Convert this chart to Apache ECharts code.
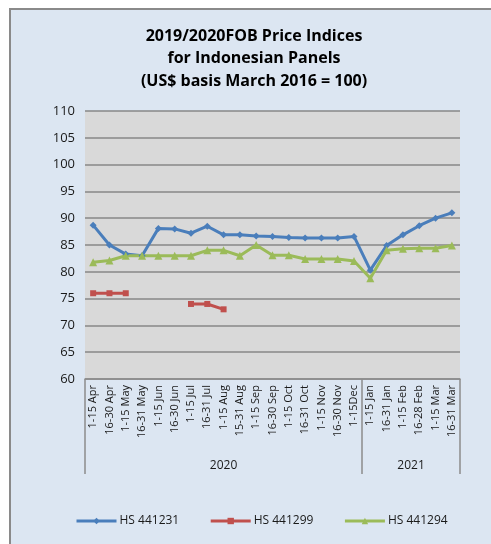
<!DOCTYPE html>
<html>
<head>
<meta charset="utf-8">
<script src="https://cdn.jsdelivr.net/npm/echarts@6/dist/echarts.min.js"></script>
<style>
  html, body { margin: 0; padding: 0; background: #fff; }
  #chart { width: 491px; height: 544px; }
</style>
</head>
<body>
<div id="chart"></div>
<script>
var periods = ['1-15 Apr', '16-30 Apr', '1-15 May', '16-31 May', '1-15 Jun', '16-30 Jun',
    '1-15 Jul', '16-31 Jul', '1-15 Aug', '15-31 Aug', '1-15 Sep', '16-30 Sep',
    '1-15 Oct', '16-31 Oct', '1-15 Nov', '16-30 Nov', '1-15Dec',
    '1-15 Jan', '16-31 Jan', '1-15 Feb', '16-28 Feb', '1-15 Mar', '16-31 Mar'];
var years = ['2020', '2021'];
var yearCounts = [17, 6];

var hs441231 = [88.7, 85.0, 83.3, 83.0, 88.1, 88.0, 87.2, 88.5, 86.9, 86.9, 86.7, 86.6,
    86.4, 86.3, 86.3, 86.3, 86.6, 80.3, 84.9, 86.9, 88.6, 90.0, 91.0];
var hs441299 = [76, 76, 76, null, null, null, 74, 74, 73, null, null, null,
    null, null, null, null, null, null, null, null, null, null, null];
var hs441294 = [81.8, 82.1, 83.0, 83.0, 83.0, 83.0, 83.0, 84.0, 84.0, 83.0, 85.0, 83.1,
    83.1, 82.4, 82.4, 82.4, 82.0, 78.8, 84.0, 84.3, 84.4, 84.4, 84.9];

var fontName = 'Open Sans';
var textColor = '#1a1a1a';

// year group boundaries and centres on a 0..N value axis
var bounds = [0];
var centres = [];
yearCounts.forEach(function (c, i) {
    centres.push(bounds[i] + c / 2);
    bounds.push(bounds[i] + c);
});

function lineSeries(name, data, color, symbol, size) {
    return {
        name: name,
        type: 'line',
        data: data,
        symbol: symbol,
        symbolSize: size,
        showSymbol: true,
        connectNulls: false,
        lineStyle: { color: color, width: 3 },
        itemStyle: { color: color },
        emphasis: { disabled: true },
        z: 3
    };
}

var chart = echarts.init(document.getElementById('chart'));
chart.setOption({
    backgroundColor: '#ffffff',
    animation: false,
    textStyle: { fontFamily: fontName },
    graphic: [{
        type: 'rect',
        z: -10,
        shape: { x: 10, y: 9, width: 490, height: 545 },
        style: { fill: '#dce6f2', stroke: '#8a8a8a', lineWidth: 2 }
    }, {
        type: 'text',
        z: 10,
        x: 254,
        y: 25,
        style: {
            text: '2019/2020FOB Price Indices\nfor Indonesian Panels\n(US$ basis March 2016 = 100)',
            fill: '#000',
            font: 'bold 16px "Open Sans"',
            textAlign: 'center',
            lineHeight: 22.5
        }
    }],
    grid: { left: 85, right: 31, top: 111, bottom: 165 },
    legend: {
        bottom: 12,
        left: 70,
        itemWidth: 40,
        itemHeight: 8,
        itemGap: 30,
        lineStyle: { width: 3 },
        textStyle: { fontSize: 12, color: textColor, fontFamily: fontName, padding: [0, 0, 0, -2] },
        data: ['HS 441231', 'HS 441299', 'HS 441294']
    },
    xAxis: [{
        type: 'category',
        data: periods,
        boundaryGap: true,
        axisLine: { show: true, lineStyle: { color: '#8c8c8c', width: 1.5 } },
        axisTick: { show: false },
        axisLabel: {
            rotate: 90,
            interval: 0,
            margin: 6,
            fontSize: 11,
            color: textColor,
            fontFamily: fontName
        }
    }, {
        type: 'value',
        min: 0,
        max: periods.length,
        position: 'bottom',
        offset: 95,
        axisLine: { show: false, onZero: false },
        splitLine: { show: false },
        axisTick: {
            show: true,
            inside: true,
            length: 95,
            customValues: bounds,
            lineStyle: { color: '#8c8c8c', width: 1.5 }
        },
        axisLabel: {
            show: true,
            customValues: centres,
            margin: -14,
            fontSize: 12,
            color: textColor,
            fontFamily: fontName,
            formatter: function (v) {
                return years[centres.indexOf(v)];
            }
        }
    }],
    yAxis: {
        type: 'value',
        min: 60,
        max: 110,
        interval: 5,
        axisLine: { show: false },
        axisTick: { show: false },
        axisLabel: { fontSize: 13, color: textColor, margin: 10, fontFamily: fontName },
        splitLine: { lineStyle: { color: '#878787', width: 1.5 } },
        splitArea: { show: true, areaStyle: { color: ['#d9d9d9', '#d9d9d9'] } }
    },
    series: [
        lineSeries('HS 441231', hs441231, '#4a7ebb', 'diamond', 7),
        lineSeries('HS 441299', hs441299, '#c0504d', 'rect', 6),
        lineSeries('HS 441294', hs441294, '#9bbb59', 'triangle', 8)
    ]
});
</script>
</body>
</html>
